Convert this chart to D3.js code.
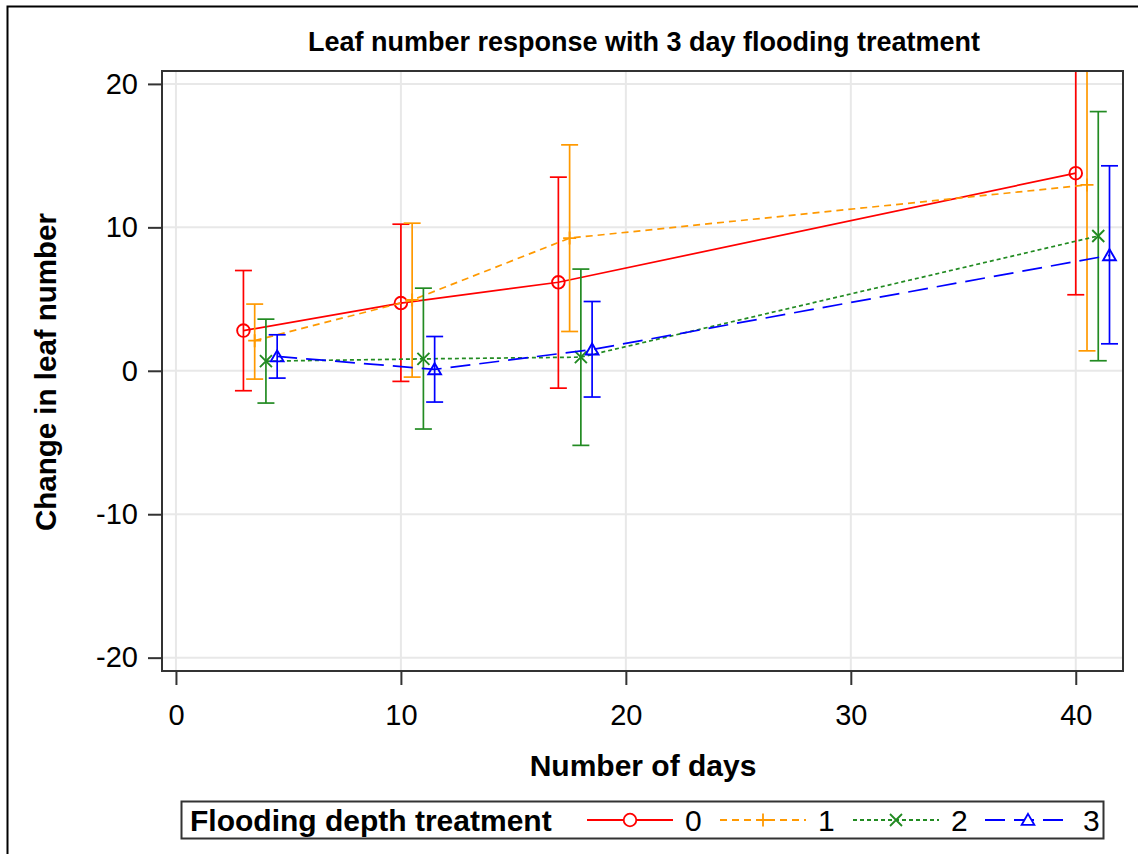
<!DOCTYPE html>
<html><head><meta charset="utf-8">
<script src="https://cdn.jsdelivr.net/npm/d3@7"></script>
<style>body{margin:0;background:#fff}svg{display:block;font-family:"Liberation Sans",Arial,sans-serif}</style>
</head><body><svg id="c" width="1138" height="854"></svg>
<script>
const days = [3, 10, 17, 40];
const groupNames = ["0", "1", "2", "3"];
const dayOffset = [0, 0.5, 1, 1.5];
const mean0 = [2.8, 4.72, 6.17, 13.78];
const lower0 = [-1.39, -0.74, -1.21, 5.3];
const upper0 = [6.99, 10.22, 13.5, 22.3];
const mean1 = [2.1, 4.93, 9.25, 12.96];
const lower1 = [-0.58, -0.44, 2.74, 1.39];
const upper1 = [4.65, 10.29, 15.75, 24.5];
const mean2 = [0.67, 0.83, 0.95, 9.4];
const lower2 = [-2.25, -4.06, -5.2, 0.7];
const upper2 = [3.6, 5.76, 7.09, 18.07];
const mean3 = [1.0, 0.1, 1.48, 8.05];
const lower3 = [-0.51, -2.18, -1.83, 1.88];
const upper3 = [2.51, 2.39, 4.83, 14.29];
const xTicks = [0, 10, 20, 30, 40];
const yTicks = [-20, -10, 0, 10, 20];
const title = "Leaf number response with 3 day flooding treatment";
const xTitle = "Number of days";
const yTitle = "Change in leaf number";
const legendTitle = "Flooding depth treatment";

const colors = ["#ff0000", "#ff9900", "#228b22", "#0000ff"];
const dashes = [null, "7,5", "4,3", "20,9"];
const markers = ["circle", "plus", "x", "triangle"];
const means = [mean0, mean1, mean2, mean3];
const lowers = [lower0, lower1, lower2, lower3];
const uppers = [upper0, upper1, upper2, upper3];

const svg = d3.select("#c");
const L = 162, R = 1123, T = 71, B = 671;
const x = d3.scaleLinear().domain([-0.62, 42.1]).range([L, R]);
const y = d3.scaleLinear().domain([-20.93, 20.9]).range([B, T]);

// outer border
svg.append("rect").attr("x", 7.5).attr("y", 6.5).attr("width", 2000).attr("height", 2000)
  .attr("fill", "none").attr("stroke", "#000").attr("stroke-width", 2);

// gridlines
const grid = svg.append("g");
grid.selectAll(".gx").data(xTicks).join("line")
  .attr("x1", d => x(d)).attr("x2", d => x(d)).attr("y1", T).attr("y2", B)
  .attr("stroke", "#e8e8e8").attr("stroke-width", 2);
grid.selectAll(".gy").data(yTicks).join("line")
  .attr("y1", d => y(d)).attr("y2", d => y(d)).attr("x1", L).attr("x2", R)
  .attr("stroke", "#e8e8e8").attr("stroke-width", 2);

svg.append("defs").append("clipPath").attr("id", "clip")
  .append("rect").attr("x", L).attr("y", T).attr("width", R - L).attr("height", B - T);

const plot = svg.append("g").attr("clip-path", "url(#clip)");

function markerPath(type, s) {
  const p = d3.path();
  if (type === "circle") { p.moveTo(s, 0); p.arc(0, 0, s, 0, 2 * Math.PI); }
  else if (type === "plus") { p.moveTo(-s, 0); p.lineTo(s, 0); p.moveTo(0, -s); p.lineTo(0, s); }
  else if (type === "x") { p.moveTo(-s, -s); p.lineTo(s, s); p.moveTo(-s, s); p.lineTo(s, -s); }
  else if (type === "triangle") { p.moveTo(0, -s * 1.05); p.lineTo(s * 1.1, s * 0.85); p.lineTo(-s * 1.1, s * 0.85); p.closePath(); }
  return p.toString();
}
const mSize = [6.3, 6.5, 6, 5.8];

groupNames.forEach((g, gi) => {
  const pts = days.map((d, i) => ({ x: d + dayOffset[gi], m: means[gi][i], lo: lowers[gi][i], hi: uppers[gi][i] }));
  const gg = plot.append("g");
  gg.selectAll(".eb").data(pts).join("line")
    .attr("x1", d => x(d.x)).attr("x2", d => x(d.x)).attr("y1", d => y(d.lo)).attr("y2", d => y(d.hi))
    .attr("stroke", colors[gi]).attr("stroke-width", 1.7);
  ["lo", "hi"].forEach(k => {
    gg.selectAll(".cap" + k).data(pts).join("line")
      .attr("x1", d => x(d.x) - 8.5).attr("x2", d => x(d.x) + 8.5).attr("y1", d => y(d[k])).attr("y2", d => y(d[k]))
      .attr("stroke", colors[gi]).attr("stroke-width", 1.7);
  });
  gg.append("path").datum(pts)
    .attr("d", d3.line().x(d => x(d.x)).y(d => y(d.m)))
    .attr("fill", "none").attr("stroke", colors[gi]).attr("stroke-width", 1.7)
    .attr("stroke-dasharray", dashes[gi]);
  gg.selectAll(".mk").data(pts).join("path")
    .attr("transform", d => `translate(${x(d.x)},${y(d.m)})`)
    .attr("d", markerPath(markers[gi], mSize[gi]))
    .attr("fill", "none").attr("stroke", colors[gi]).attr("stroke-width", 1.9);
});

// frame
svg.append("rect").attr("x", L).attr("y", T).attr("width", R - L).attr("height", B - T)
  .attr("fill", "none").attr("stroke", "#333").attr("stroke-width", 2);

// axes
const xa = svg.append("g").attr("transform", `translate(0,${B})`)
  .call(d3.axisBottom(x).tickValues(xTicks).tickSize(14).tickPadding(19).tickFormat(d3.format("d")));
const ya = svg.append("g").attr("transform", `translate(${L},0)`)
  .call(d3.axisLeft(y).tickValues(yTicks).tickSize(14).tickPadding(10).tickFormat(d => d < 0 ? "-" + Math.abs(d) : d));
[xa, ya].forEach(a => {
  a.select(".domain").remove();
  a.selectAll(".tick line").attr("stroke", "#333").attr("stroke-width", 2);
  a.selectAll(".tick text").attr("fill", "#000").style("font-size", "29px").style("font-family", "Liberation Sans, Arial, sans-serif");
});

// titles
svg.append("text").attr("x", 644).attr("y", 51).attr("text-anchor", "middle")
  .style("font-size", "27px").style("font-weight", "bold").text(title);
svg.append("text").attr("x", 643).attr("y", 776).attr("text-anchor", "middle")
  .style("font-size", "30px").style("font-weight", "bold").text(xTitle);
svg.append("text").attr("transform", "translate(56,372) rotate(-90)").attr("text-anchor", "middle")
  .style("font-size", "29.5px").style("font-weight", "bold").text(yTitle);

// legend
const lg = svg.append("g");
lg.append("rect").attr("x", 181.5).attr("y", 801.5).attr("width", 922).attr("height", 37)
  .attr("fill", "none").attr("stroke", "#333").attr("stroke-width", 2);
lg.append("text").attr("x", 190).attr("y", 831).style("font-size", "30px").style("font-weight", "bold").text(legendTitle);
const legX = [587, 720, 853, 985];
groupNames.forEach((g, gi) => {
  const x0 = legX[gi], x1 = x0 + 86, cx = (x0 + x1) / 2;
  lg.append("line").attr("x1", x0).attr("x2", x1).attr("y1", 820).attr("y2", 820)
    .attr("stroke", colors[gi]).attr("stroke-width", 1.8).attr("stroke-dasharray", dashes[gi]);
  lg.append("path").attr("transform", `translate(${cx},820)`).attr("d", markerPath(markers[gi], mSize[gi]))
    .attr("fill", gi === 0 || gi === 3 ? "#fff" : "none").attr("stroke", colors[gi]).attr("stroke-width", 1.8);
  lg.append("text").attr("x", x1 + 12).attr("y", 831).style("font-size", "30px").text(g);
});
</script></body></html>
